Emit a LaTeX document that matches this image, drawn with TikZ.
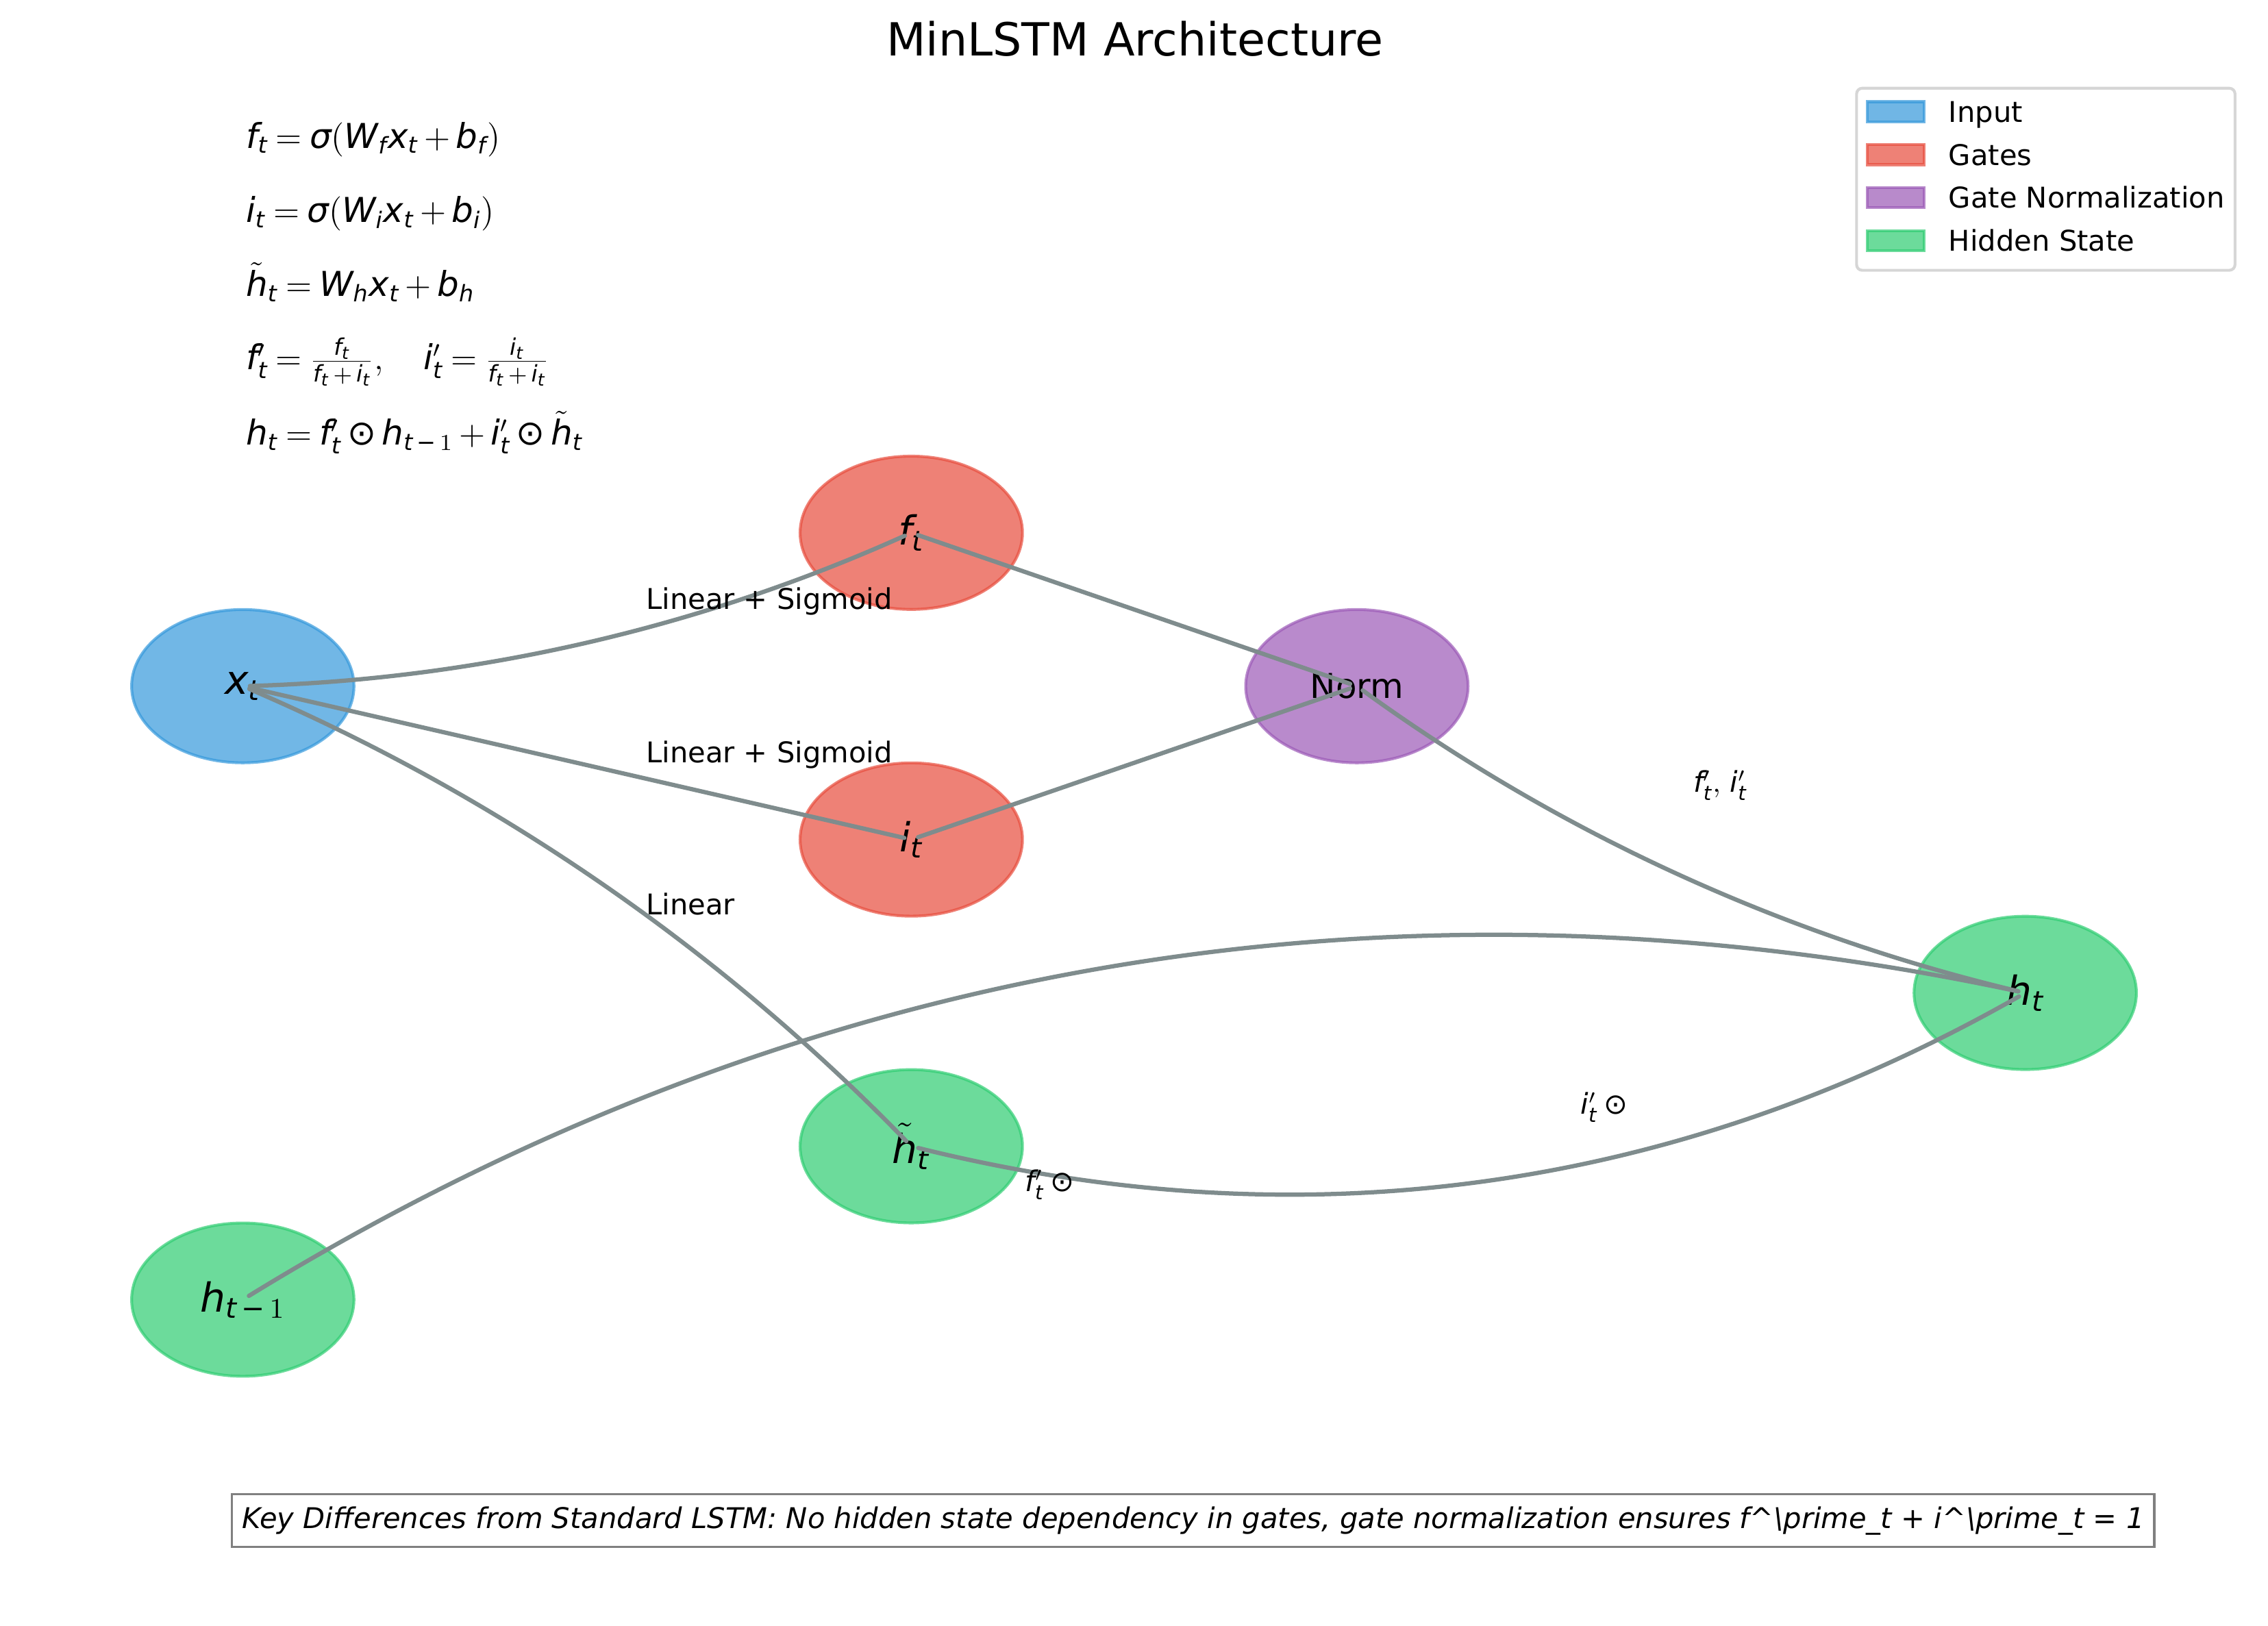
\documentclass[tikz,border=0pt]{standalone}
\usepackage{fontspec}
\setmainfont{DejaVu Sans}
\DeclareSymbolFont{dvit}{TU}{\rmdefault}{m}{it}
\DeclareSymbolFont{dvup}{TU}{\rmdefault}{m}{n}
\DeclareMathSymbol{b}{\mathalpha}{dvit}{`b}
\DeclareMathSymbol{f}{\mathalpha}{dvit}{`f}
\DeclareMathSymbol{h}{\mathalpha}{dvit}{`h}
\DeclareMathSymbol{i}{\mathalpha}{dvit}{`i}
\DeclareMathSymbol{t}{\mathalpha}{dvit}{`t}
\DeclareMathSymbol{x}{\mathalpha}{dvit}{`x}
\DeclareMathSymbol{W}{\mathalpha}{dvit}{`W}
\DeclareMathSymbol{=}{\mathrel}{dvup}{`=}
\DeclareMathSymbol{+}{\mathbin}{dvup}{`+}
\DeclareMathSymbol{(}{\mathopen}{dvup}{`(}
\DeclareMathSymbol{)}{\mathclose}{dvup}{`)}
\DeclareMathSymbol{1}{\mathalpha}{dvup}{`1}
\Umathcode`\-="2 \symdvup "2212\relax
\Umathchardef\dvodot="2 \symdvup "2299\relax
\newcommand\sig{\mbox{\itshape σ}}
\newcommand\eqsp{\thickmuskip=4mu\relax\medmuskip=3mu\relax}
\newcommand\sbin[1]{\mskip3mu#1\mskip3mu}
\usetikzlibrary{shapes.geometric}
\definecolor{inputc}{HTML}{3498DB}
\definecolor{gatec}{HTML}{E74C3C}
\definecolor{normc}{HTML}{9B59B6}
\definecolor{hidc}{HTML}{2ECC71}
\definecolor{edgec}{HTML}{7F8C8D}
\definecolor{legframe}{HTML}{CCCCCC}
\definecolor{keyframe}{HTML}{808080}
\begin{document}
\begin{tikzpicture}[x=0.509385pt,y=-0.509385pt,
  bub/.style={ellipse, minimum width=77.9pt, minimum height=53.7pt, inner sep=0pt,
    line width=1pt, fill opacity=0.7, draw opacity=0.7, text opacity=1,
    font=\fontsize{14}{16}\selectfont},
  conn/.style={draw=edgec, line width=1.5pt, line cap=round, shorten <=2.5pt, shorten >=2.5pt},
  lab/.style={anchor=base west, inner sep=0pt, font=\fontsize{10}{12}\selectfont},
  eq/.style={anchor=base west, inner sep=0pt, font=\fontsize{12}{15}\selectfont},
  patch/.style={rectangle, minimum width=20pt, minimum height=7pt, inner sep=0pt,
    line width=1pt, fill opacity=0.7, draw opacity=0.7},
  legtxt/.style={anchor=base west, inner sep=0pt, font=\fontsize{10}{12}\selectfont}]
\useasboundingbox (0,0) rectangle (1560,1118.5);

% title
\node[anchor=base, inner sep=0pt, font=\fontsize{16}{19}\selectfont] (title) at (780.6,38.5) {MinLSTM Architecture};

% equations
\node[eq] (e1) at (168.8,101.8) {\eqsp$f_t = \sig(W_f x_t + b_f)$};
\node[eq] (e2) at (168.8,153.1) {\eqsp$i_t = \sig(W_i x_t + b_i)$};
\node[eq] (e3) at (168.8,203.9) {\eqsp$\tilde{h}_t = W_h x_t + b_h$};
\node[eq] (e4) at (168.8,254.4) {\eqsp$f'_t = \frac{f_t}{f_t\sbin{+}i_t}, \quad i'_t = \frac{i_t}{f_t\sbin{+}i_t}$};
\node[eq] (e5) at (168.8,306.2) {\eqsp$h_t = f'_t \dvodot h_{t\sbin{-}1} + i'_t \dvodot \tilde{h}_t$};

% nodes
\node[bub, fill=inputc, draw=inputc] (xt) at (167,472) {$x_t$};
\node[bub, fill=gatec, draw=gatec] (ft) at (626.8,366.5) {$f_t$};
\node[bub, fill=gatec, draw=gatec] (it) at (626.8,577.5) {$i_t$};
\node[bub, fill=normc, draw=normc, font=\fontsize{12}{14}\selectfont] (norm) at (933.3,472) {Norm};
\node[bub, fill=hidc, draw=hidc] (htil) at (626.8,788.5) {$\tilde{h}_t$};
\node[bub, fill=hidc, draw=hidc] (hprev) at (167,894) {$h_{t\sbin{-}1}$};
\node[bub, fill=hidc, draw=hidc] (ht) at (1393,683) {$h_t$};

% connectors
\draw[conn] (xt.center) to[bend right=11.31, looseness=0.8683] (ft.center);
\draw[conn] (xt.center) -- (it.center);
\draw[conn] (xt.center) to[bend left=11.31, looseness=0.8683] (htil.center);
\draw[conn] (ft.center) -- (norm.center);
\draw[conn] (it.center) -- (norm.center);
\draw[conn] (norm.center) to[bend right=11.31, looseness=0.8683] (ht.center);
\draw[conn] (htil.center) to[bend right=21.8, looseness=0.917] (ht.center);
\draw[conn] (hprev.center) to[bend left=21.8, looseness=0.917] (ht.center);

% connector labels
\node[lab] (l1) at (444,419) {Linear + Sigmoid};
\node[lab] (l2) at (444,524.6) {Linear + Sigmoid};
\node[lab] (l3) at (444,629) {Linear};
\node[lab] (l4) at (1164.4,545) {$f'_t,\, i'_t$};
\node[lab] (l5) at (704.7,819.6) {$f'_t \dvodot {}$};
\node[lab] (l6) at (1086.8,766.4) {$i'_t \dvodot {}$};

% legend
\node[draw=legframe, draw opacity=0.8, fill=white, rounded corners=2pt, line width=1pt,
  minimum width=132.6pt, minimum height=63.8pt, inner sep=0pt, anchor=north west] (legend) at (1276,59.7) {};
\node[patch, fill=inputc, draw=inputc] (pin) at (1304,76.8) {};
\node[patch, fill=gatec, draw=gatec] (pga) at (1304,106.4) {};
\node[patch, fill=normc, draw=normc] (pno) at (1304,136) {};
\node[patch, fill=hidc, draw=hidc] (phi) at (1304,165.6) {};
\node[legtxt] (tin) at (1340,84) {Input};
\node[legtxt] (tga) at (1340,113.6) {Gates};
\node[legtxt] (tno) at (1340,143.2) {Gate Normalization};
\node[legtxt] (thi) at (1340,172.8) {Hidden State};

% key differences box
\node[draw=keyframe, fill=white, line width=0.8pt, minimum width=673.5pt, minimum height=18.4pt,
  inner sep=0pt, font=\fontsize{10}{12}\selectfont\itshape] (key) at (820.7,1046)
  {Key Differences from Standard LSTM: No hidden state dependency in gates, gate normalization ensures f\textasciicircum\textbackslash prime\_t + i\textasciicircum\textbackslash prime\_t = 1};
\end{tikzpicture}
\end{document}
